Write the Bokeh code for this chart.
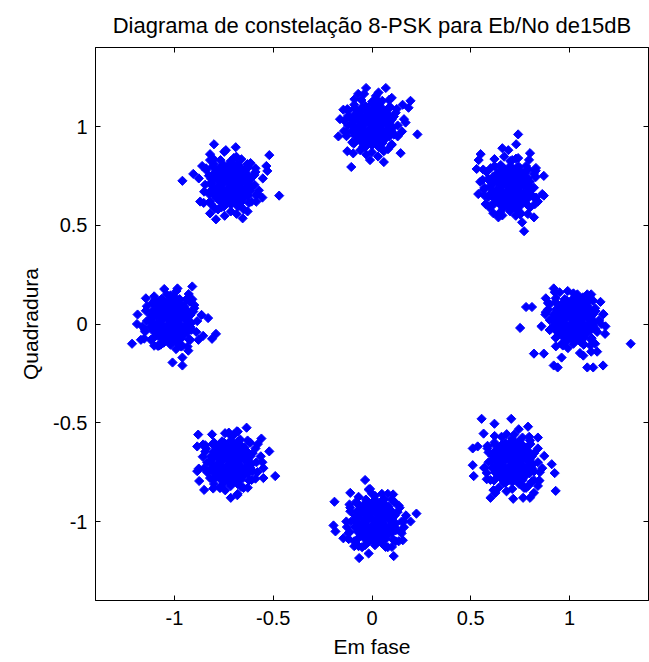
import numpy as np
from bokeh.plotting import figure
from bokeh.models import FixedTicker, LinearAxis, Range1d
from bokeh.embed import file_html
from bokeh.resources import INLINE

title_text = "Diagrama de constelação 8-PSK para Eb/No de15dB"
x_label = "Em fase"
y_label = "Quadradura"
tick_values = [-1, -0.5, 0, 0.5, 1]
tick_labels = ["-1", "-0.5", "0", "0.5", "1"]

# received symbols per constellation point (I, Q)
cluster_e = [
    (0.915, 0.025), (0.95, 0.01), (0.985, 0.03), (1.02, 0.02), (1.055, 0.015), (1.09, 0.03), (1.125, 0.01),
    (0.92, 0.05), (0.95, 0.06), (0.985, 0.055), (1.025, 0.06), (1.055, 0.05), (1.09, 0.06), (1.12, 0.05),
    (0.92, -0.01), (0.95, -0.02), (0.99, -0.015), (1.02, -0.01), (1.055, -0.02), (1.095, -0.015), (1.12, -0.01),
    (0.95, 0.09), (0.985, 0.095), (1.02, 0.085), (1.055, 0.09), (1.09, 0.095),
    (0.95, -0.05), (0.985, -0.045), (1.02, -0.055), (1.06, -0.05), (1.09, -0.045),
    (0.985, 0.12), (1.02, 0.13), (1.055, 0.125),
    (0.985, -0.085), (1.02, -0.08), (1.055, -0.09),
    (0.933, 0.04), (0.968, 0.035), (1.003, 0.04), (1.038, 0.036), (1.073, 0.041), (1.108, 0.035),
    (0.933, 0.001), (0.968, 0.006), (1.003, 0.0), (1.038, 0.005), (1.073, 0.001), (1.108, 0.006),
    (0.933, 0.075), (0.968, 0.07), (1.003, 0.076), (1.038, 0.071), (1.073, 0.074), (1.108, 0.07),
    (0.933, -0.035), (0.968, -0.03), (1.003, -0.036), (1.038, -0.031), (1.073, -0.034), (1.108, -0.03),
    (0.968, 0.11), (1.003, 0.105), (1.038, 0.11), (1.073, 0.106),
    (0.968, -0.066), (1.003, -0.07), (1.038, -0.065), (1.073, -0.07),
    (1.15, 0.02), (1.131, 0.066), (1.119, 0.119), (1.068, 0.135), (1.02, 0.155), (0.976, 0.126), (0.928, 0.112),
    (0.891, 0.074), (0.90, 0.02), (0.90, -0.03), (0.932, -0.068), (0.966, -0.109), (1.02, -0.10), (1.072, -0.105),
    (1.112, -0.072), (1.131, -0.026),
    (1.172, 0.05), (1.157, 0.112), (1.101, 0.14), (0.991, 0.167), (0.925, 0.161), (0.891, 0.106), (0.878, 0.048),
    (0.858, -0.012), (0.931, -0.113), (0.992, -0.122), (1.053, -0.147), (1.106, -0.109), (1.182, -0.012),
    (0.90, 0.10), (0.93, 0.13), (1.10, 0.12), (1.13, 0.08), (1.14, -0.04), (1.11, -0.08), (0.93, -0.07),
    (0.90, -0.03), (1.04, 0.15), (0.96, -0.10), (1.07, -0.10),
    (0.78, 0.086), (0.81, 0.086), (0.75, -0.02), (0.82, -0.15), (0.87, -0.15), (0.92, -0.21), (0.94, -0.22),
    (0.96, -0.17), (1.07, -0.16), (1.09, -0.22), (1.12, -0.22), (1.17, -0.21), (1.11, -0.14), (1.14, -0.14),
    (1.13, -0.10), (1.18, -0.05), (1.16, 0.0), (1.17, 0.05), (1.09, 0.15), (1.11, 0.15), (0.92, 0.18),
    (0.95, 0.16), (0.88, 0.13), (0.88, 0.06), (1.31, -0.10),
]
cluster_ne = [
    (0.595, 0.695), (0.63, 0.68), (0.665, 0.70), (0.70, 0.69), (0.735, 0.685), (0.77, 0.70), (0.805, 0.68),
    (0.60, 0.72), (0.63, 0.73), (0.665, 0.725), (0.705, 0.73), (0.735, 0.72), (0.77, 0.73), (0.80, 0.72),
    (0.60, 0.66), (0.63, 0.65), (0.67, 0.655), (0.70, 0.66), (0.735, 0.65), (0.775, 0.655), (0.80, 0.66),
    (0.63, 0.76), (0.665, 0.765), (0.70, 0.755), (0.735, 0.76), (0.77, 0.765),
    (0.63, 0.62), (0.665, 0.625), (0.70, 0.615), (0.74, 0.62), (0.77, 0.625),
    (0.665, 0.79), (0.70, 0.80), (0.735, 0.795),
    (0.665, 0.585), (0.70, 0.59), (0.735, 0.58),
    (0.613, 0.71), (0.648, 0.705), (0.683, 0.71), (0.718, 0.706), (0.753, 0.711), (0.788, 0.705),
    (0.613, 0.671), (0.648, 0.676), (0.683, 0.67), (0.718, 0.675), (0.753, 0.671), (0.788, 0.676),
    (0.613, 0.745), (0.648, 0.74), (0.683, 0.746), (0.718, 0.741), (0.753, 0.744), (0.788, 0.74),
    (0.613, 0.64), (0.648, 0.635), (0.683, 0.64), (0.718, 0.636), (0.753, 0.639), (0.788, 0.635),
    (0.648, 0.78), (0.683, 0.775), (0.718, 0.78), (0.753, 0.776),
    (0.648, 0.605), (0.683, 0.60), (0.718, 0.606), (0.753, 0.601),
    (0.57, 0.69), (0.589, 0.736), (0.601, 0.789), (0.652, 0.805), (0.70, 0.825), (0.744, 0.796), (0.792, 0.782),
    (0.829, 0.744), (0.82, 0.69), (0.82, 0.64), (0.788, 0.602), (0.754, 0.561), (0.70, 0.57), (0.648, 0.565),
    (0.608, 0.598), (0.589, 0.644),
    (0.548, 0.72), (0.563, 0.782), (0.669, 0.847), (0.729, 0.837), (0.795, 0.831), (0.829, 0.776), (0.862, 0.658),
    (0.825, 0.607), (0.789, 0.557), (0.728, 0.548), (0.614, 0.561), (0.575, 0.607), (0.538, 0.658),
    (0.58, 0.77), (0.62, 0.80), (0.78, 0.80), (0.82, 0.76), (0.83, 0.64), (0.80, 0.59), (0.60, 0.60),
    (0.57, 0.65), (0.71, 0.83), (0.66, 0.55), (0.75, 0.555),
    (0.74, 0.96), (0.73, 0.91), (0.66, 0.89), (0.69, 0.88), (0.55, 0.86), (0.54, 0.83), (0.53, 0.785),
    (0.62, 0.835), (0.74, 0.84), (0.80, 0.865), (0.83, 0.79), (0.87, 0.75), (0.87, 0.65), (0.84, 0.62),
    (0.595, 0.59), (0.64, 0.54), (0.76, 0.515), (0.77, 0.47), (0.82, 0.54), (0.56, 0.73), (0.565, 0.68),
]
cluster_n = [
    (-0.105, 1.01), (-0.07, 0.995), (-0.035, 1.015), (0.0, 1.005), (0.035, 1.0), (0.07, 1.015), (0.105, 0.995),
    (-0.10, 1.035), (-0.07, 1.045), (-0.035, 1.04), (0.005, 1.045), (0.035, 1.035), (0.07, 1.045), (0.10, 1.035),
    (-0.10, 0.975), (-0.07, 0.965), (-0.03, 0.97), (0.0, 0.975), (0.035, 0.965), (0.075, 0.97), (0.10, 0.975),
    (-0.07, 1.075), (-0.035, 1.08), (0.0, 1.07), (0.035, 1.075), (0.07, 1.08),
    (-0.07, 0.935), (-0.035, 0.94), (0.0, 0.93), (0.04, 0.935), (0.07, 0.94),
    (-0.035, 1.105), (0.0, 1.115), (0.035, 1.11),
    (-0.035, 0.895), (0.0, 0.905), (0.035, 0.895),
    (-0.088, 1.025), (-0.053, 1.02), (-0.018, 1.025), (0.018, 1.021), (0.053, 1.026), (0.088, 1.02),
    (-0.088, 0.986), (-0.053, 0.991), (-0.018, 0.985), (0.018, 0.99), (0.053, 0.986), (0.088, 0.991),
    (-0.088, 1.06), (-0.053, 1.055), (-0.018, 1.061), (0.018, 1.056), (0.053, 1.059), (0.088, 1.055),
    (-0.088, 0.955), (-0.053, 0.95), (-0.018, 0.955), (0.018, 0.951), (0.053, 0.954), (0.088, 0.95),
    (-0.053, 1.095), (-0.018, 1.09), (0.018, 1.095), (0.053, 1.091),
    (-0.053, 0.92), (-0.018, 0.915), (0.018, 0.921), (0.053, 0.916),
    (0.13, 1.005), (0.111, 0.959), (0.099, 0.906), (0.048, 0.89), (0.0, 0.87), (-0.044, 0.899), (-0.092, 0.913),
    (-0.129, 0.951), (-0.12, 1.005), (-0.12, 1.055), (-0.088, 1.093), (-0.054, 1.134), (0.0, 1.125), (0.052, 1.13),
    (0.092, 1.097), (0.111, 1.051),
    (0.152, 0.975), (0.081, 0.885), (0.031, 0.848), (-0.029, 0.858), (-0.095, 0.864), (-0.142, 0.977),
    (-0.162, 1.037), (-0.125, 1.088), (-0.089, 1.138), (0.033, 1.172), (0.086, 1.134), (0.125, 1.088), (0.162, 1.037),
    (-0.12, 1.08), (-0.09, 1.11), (0.09, 1.10), (0.12, 1.07), (0.13, 0.95), (0.10, 0.91), (-0.10, 0.92),
    (-0.13, 0.97), (0.02, 1.14), (-0.06, 0.88), (0.06, 0.875), (-0.14, 1.03),
    (-0.145, 1.085), (-0.03, 1.195), (0.07, 1.195), (-0.07, 1.165), (-0.04, 1.165), (0.02, 1.155),
    (0.10, 1.145), (0.155, 1.11), (0.195, 1.13), (0.185, 1.095), (0.23, 0.96), (0.17, 1.02),
    (0.145, 0.865), (0.06, 0.82), (-0.01, 0.83), (-0.105, 0.795), (-0.17, 0.95), (-0.125, 0.875),
]
cluster_nw = [
    (-0.82, 0.71), (-0.785, 0.695), (-0.75, 0.715), (-0.715, 0.705), (-0.68, 0.70), (-0.645, 0.715), (-0.61, 0.695),
    (-0.815, 0.735), (-0.785, 0.745), (-0.75, 0.74), (-0.71, 0.745), (-0.68, 0.735), (-0.645, 0.745), (-0.615, 0.735),
    (-0.815, 0.675), (-0.785, 0.665), (-0.745, 0.67), (-0.715, 0.675), (-0.68, 0.665), (-0.64, 0.67), (-0.615, 0.675),
    (-0.785, 0.775), (-0.75, 0.78), (-0.715, 0.77), (-0.68, 0.775), (-0.645, 0.78),
    (-0.785, 0.635), (-0.75, 0.64), (-0.715, 0.63), (-0.675, 0.635), (-0.645, 0.64),
    (-0.75, 0.805), (-0.715, 0.815), (-0.68, 0.81),
    (-0.75, 0.595), (-0.715, 0.605), (-0.68, 0.595),
    (-0.803, 0.725), (-0.768, 0.72), (-0.733, 0.725), (-0.698, 0.721), (-0.663, 0.726), (-0.628, 0.72),
    (-0.803, 0.686), (-0.768, 0.691), (-0.733, 0.685), (-0.698, 0.69), (-0.663, 0.686), (-0.628, 0.691),
    (-0.803, 0.76), (-0.768, 0.755), (-0.733, 0.761), (-0.698, 0.756), (-0.663, 0.759), (-0.628, 0.755),
    (-0.803, 0.655), (-0.768, 0.65), (-0.733, 0.655), (-0.698, 0.651), (-0.663, 0.654), (-0.628, 0.65),
    (-0.768, 0.795), (-0.733, 0.79), (-0.698, 0.795), (-0.663, 0.791),
    (-0.768, 0.62), (-0.733, 0.615), (-0.698, 0.621), (-0.663, 0.616),
    (-0.845, 0.705), (-0.826, 0.659), (-0.814, 0.606), (-0.763, 0.59), (-0.715, 0.57), (-0.671, 0.599), (-0.623, 0.613),
    (-0.586, 0.651), (-0.595, 0.705), (-0.595, 0.755), (-0.627, 0.793), (-0.661, 0.834), (-0.715, 0.825), (-0.767, 0.83),
    (-0.807, 0.797), (-0.826, 0.751),
    (-0.852, 0.613), (-0.796, 0.585), (-0.746, 0.548), (-0.686, 0.558), (-0.586, 0.619), (-0.573, 0.677),
    (-0.553, 0.737), (-0.59, 0.788), (-0.687, 0.847), (-0.748, 0.872), (-0.801, 0.834), (-0.84, 0.788), (-0.877, 0.737),
    (-0.84, 0.78), (-0.80, 0.81), (-0.63, 0.81), (-0.59, 0.77), (-0.58, 0.66), (-0.61, 0.62), (-0.82, 0.62),
    (-0.85, 0.67), (-0.70, 0.84), (-0.78, 0.58), (-0.65, 0.58),
    (-0.80, 0.91), (-0.69, 0.895), (-0.74, 0.88), (-0.82, 0.86), (-0.82, 0.83), (-0.96, 0.725),
    (-0.905, 0.76), (-0.86, 0.80), (-0.52, 0.855), (-0.535, 0.80), (-0.53, 0.775), (-0.615, 0.815),
    (-0.47, 0.65), (-0.82, 0.56), (-0.79, 0.53), (-0.655, 0.535), (-0.63, 0.57), (-0.87, 0.62), (-0.555, 0.64),
]
cluster_w = [
    (-1.125, 0.02), (-1.09, 0.005), (-1.055, 0.025), (-1.02, 0.015), (-0.985, 0.01), (-0.95, 0.025), (-0.915, 0.005),
    (-1.12, 0.045), (-1.09, 0.055), (-1.055, 0.05), (-1.015, 0.055), (-0.985, 0.045), (-0.95, 0.055), (-0.92, 0.045),
    (-1.12, -0.015), (-1.09, -0.025), (-1.05, -0.02), (-1.02, -0.015), (-0.985, -0.025), (-0.945, -0.02), (-0.92, -0.015),
    (-1.09, 0.085), (-1.055, 0.09), (-1.02, 0.08), (-0.985, 0.085), (-0.95, 0.09),
    (-1.09, -0.055), (-1.055, -0.05), (-1.02, -0.06), (-0.98, -0.055), (-0.95, -0.05),
    (-1.055, 0.115), (-1.02, 0.125), (-0.985, 0.12),
    (-1.055, -0.095), (-1.02, -0.085), (-0.985, -0.095),
    (-1.108, 0.035), (-1.073, 0.03), (-1.038, 0.035), (-1.003, 0.031), (-0.968, 0.036), (-0.933, 0.03),
    (-1.108, -0.005), (-1.073, 0.0), (-1.038, -0.006), (-1.003, -0.001), (-0.968, -0.005), (-0.933, 0.0),
    (-1.108, 0.07), (-1.073, 0.065), (-1.038, 0.071), (-1.003, 0.066), (-0.968, 0.069), (-0.933, 0.065),
    (-1.108, -0.036), (-1.073, -0.041), (-1.038, -0.036), (-1.003, -0.04), (-0.968, -0.037), (-0.933, -0.041),
    (-1.073, 0.105), (-1.038, 0.1), (-1.003, 0.105), (-0.968, 0.101),
    (-1.073, -0.071), (-1.038, -0.076), (-1.003, -0.07), (-0.968, -0.075),
    (-1.02, 0.145), (-0.974, 0.126), (-0.921, 0.114), (-0.905, 0.063), (-0.885, 0.015), (-0.914, -0.029), (-0.928, -0.077),
    (-0.966, -0.114), (-1.02, -0.105), (-1.07, -0.105), (-1.108, -0.073), (-1.149, -0.039), (-1.14, 0.015), (-1.145, 0.067),
    (-1.112, 0.107), (-1.066, 0.126),
    (-0.99, 0.167), (-0.928, 0.152), (-0.90, 0.096), (-0.863, 0.046), (-0.879, -0.08), (-0.934, -0.114),
    (-0.992, -0.127), (-1.103, -0.11), (-1.153, -0.074), (-1.162, -0.013), (-1.187, 0.048), (-1.103, 0.14), (-1.052, 0.177),
    (-1.14, 0.09), (-1.10, 0.12), (-0.94, 0.12), (-0.90, 0.08), (-0.89, -0.04), (-0.92, -0.08), (-1.12, -0.08),
    (-1.15, -0.03), (-1.04, 0.15), (-1.08, -0.11), (-0.96, -0.11),
    (-0.985, 0.18), (-0.91, 0.19), (-0.935, 0.13), (-0.91, 0.125), (-1.005, 0.14), (-0.83, 0.03),
    (-0.79, -0.05), (-0.81, -0.075), (-0.855, -0.06), (-1.215, -0.10), (-1.17, -0.08), (-1.19, 0.0),
    (-1.145, 0.13), (-1.01, -0.195), (-0.96, -0.21), (-0.96, -0.17), (-0.93, -0.135), (-1.085, -0.11),
]
cluster_sw = [
    (-0.82, -0.695), (-0.785, -0.71), (-0.75, -0.69), (-0.715, -0.70), (-0.68, -0.705), (-0.645, -0.69), (-0.61, -0.71),
    (-0.815, -0.67), (-0.785, -0.66), (-0.75, -0.665), (-0.71, -0.66), (-0.68, -0.67), (-0.645, -0.66), (-0.615, -0.67),
    (-0.815, -0.73), (-0.785, -0.74), (-0.745, -0.735), (-0.715, -0.73), (-0.68, -0.74), (-0.64, -0.735), (-0.615, -0.73),
    (-0.785, -0.63), (-0.75, -0.625), (-0.715, -0.635), (-0.68, -0.63), (-0.645, -0.625),
    (-0.785, -0.77), (-0.75, -0.765), (-0.715, -0.775), (-0.675, -0.77), (-0.645, -0.765),
    (-0.75, -0.60), (-0.715, -0.59), (-0.68, -0.595),
    (-0.75, -0.805), (-0.715, -0.80), (-0.68, -0.81),
    (-0.803, -0.681), (-0.768, -0.686), (-0.733, -0.681), (-0.698, -0.685), (-0.663, -0.68), (-0.628, -0.686),
    (-0.803, -0.72), (-0.768, -0.715), (-0.733, -0.721), (-0.698, -0.716), (-0.663, -0.72), (-0.628, -0.715),
    (-0.803, -0.646), (-0.768, -0.651), (-0.733, -0.645), (-0.698, -0.65), (-0.663, -0.647), (-0.628, -0.651),
    (-0.803, -0.751), (-0.768, -0.756), (-0.733, -0.751), (-0.698, -0.755), (-0.663, -0.752), (-0.628, -0.756),
    (-0.768, -0.611), (-0.733, -0.616), (-0.698, -0.611), (-0.663, -0.615),
    (-0.768, -0.786), (-0.733, -0.791), (-0.698, -0.785), (-0.663, -0.79),
    (-0.585, -0.70), (-0.604, -0.654), (-0.616, -0.601), (-0.667, -0.585), (-0.715, -0.565), (-0.759, -0.594), (-0.807, -0.608),
    (-0.844, -0.646), (-0.835, -0.70), (-0.835, -0.75), (-0.803, -0.788), (-0.769, -0.829), (-0.715, -0.82), (-0.663, -0.825),
    (-0.623, -0.792), (-0.604, -0.746),
    (-0.563, -0.67), (-0.578, -0.608), (-0.684, -0.543), (-0.744, -0.553), (-0.81, -0.559), (-0.844, -0.614),
    (-0.857, -0.672), (-0.877, -0.732), (-0.804, -0.833), (-0.743, -0.842), (-0.682, -0.867), (-0.629, -0.829), (-0.59, -0.783),
    (-0.84, -0.63), (-0.80, -0.60), (-0.63, -0.59), (-0.59, -0.63), (-0.58, -0.75), (-0.61, -0.79), (-0.82, -0.78),
    (-0.85, -0.73), (-0.70, -0.56), (-0.77, -0.83), (-0.65, -0.83),
    (-0.88, -0.56), (-0.885, -0.62), (-0.855, -0.61), (-0.635, -0.525), (-0.725, -0.55), (-0.68, -0.545),
    (-0.56, -0.58), (-0.52, -0.645), (-0.555, -0.70), (-0.55, -0.73), (-0.49, -0.77), (-0.55, -0.78),
    (-0.885, -0.745), (-0.875, -0.795), (-0.85, -0.84), (-0.715, -0.88), (-0.68, -0.86), (-0.80, -0.81),
]
cluster_s = [
    (-0.09, -0.995), (-0.055, -1.01), (-0.02, -0.99), (0.015, -1.0), (0.05, -1.005), (0.085, -0.99), (0.12, -1.01),
    (-0.085, -0.97), (-0.055, -0.96), (-0.02, -0.965), (0.02, -0.96), (0.05, -0.97), (0.085, -0.96), (0.115, -0.97),
    (-0.085, -1.03), (-0.055, -1.04), (-0.015, -1.035), (0.015, -1.03), (0.05, -1.04), (0.09, -1.035), (0.115, -1.03),
    (-0.055, -0.93), (-0.02, -0.925), (0.015, -0.935), (0.05, -0.93), (0.085, -0.925),
    (-0.055, -1.07), (-0.02, -1.065), (0.015, -1.075), (0.055, -1.07), (0.085, -1.065),
    (-0.02, -0.90), (0.015, -0.89), (0.05, -0.895),
    (-0.02, -1.105), (0.015, -1.10), (0.05, -1.11),
    (-0.073, -0.981), (-0.038, -0.986), (-0.003, -0.981), (0.033, -0.985), (0.068, -0.98), (0.103, -0.986),
    (-0.073, -1.02), (-0.038, -1.015), (-0.003, -1.021), (0.033, -1.016), (0.068, -1.02), (0.103, -1.015),
    (-0.073, -0.946), (-0.038, -0.951), (-0.003, -0.945), (0.033, -0.95), (0.068, -0.947), (0.103, -0.951),
    (-0.073, -1.051), (-0.038, -1.056), (-0.003, -1.051), (0.033, -1.055), (0.068, -1.052), (0.103, -1.056),
    (-0.038, -0.911), (-0.003, -0.916), (0.033, -0.911), (0.068, -0.915),
    (-0.038, -1.086), (-0.003, -1.091), (0.033, -1.085), (0.068, -1.09),
    (0.015, -0.87), (0.061, -0.889), (0.114, -0.901), (0.13, -0.952), (0.15, -1.0), (0.121, -1.044), (0.107, -1.092),
    (0.069, -1.129), (0.015, -1.12), (-0.035, -1.12), (-0.073, -1.088), (-0.114, -1.054), (-0.105, -1.0), (-0.11, -0.948),
    (-0.077, -0.908), (-0.031, -0.889),
    (0.107, -0.863), (0.135, -0.919), (0.172, -0.969), (0.162, -1.029), (0.156, -1.095), (0.101, -1.129),
    (-0.017, -1.162), (-0.068, -1.125), (-0.118, -1.089), (-0.127, -1.028), (-0.114, -0.914), (-0.068, -0.875), (-0.017, -0.838),
    (-0.11, -0.93), (-0.08, -0.90), (0.10, -0.89), (0.14, -0.93), (0.16, -1.0), (0.15, -1.06), (0.12, -1.10),
    (-0.12, -1.06), (-0.13, -1.0), (-0.09, -1.10), (0.0, -0.86), (-0.05, -1.13), (0.08, -1.13), (0.05, -0.86),
    (-0.035, -0.79), (-0.19, -0.90), (-0.195, -1.02), (-0.185, -1.05), (-0.11, -0.855), (-0.01, -0.835),
    (0.225, -0.96), (0.195, -1.0), (0.145, -1.05), (-0.065, -1.185), (0.11, -1.175), (-0.09, -1.125),
    (0.135, -1.10), (-0.145, -1.085), (0.08, -0.86),
]
cluster_se = [
    (0.605, -0.695), (0.64, -0.71), (0.675, -0.69), (0.71, -0.70), (0.745, -0.705), (0.78, -0.69), (0.815, -0.71),
    (0.61, -0.67), (0.64, -0.66), (0.675, -0.665), (0.715, -0.66), (0.745, -0.67), (0.78, -0.66), (0.81, -0.67),
    (0.61, -0.73), (0.64, -0.74), (0.68, -0.735), (0.71, -0.73), (0.745, -0.74), (0.785, -0.735), (0.81, -0.73),
    (0.64, -0.63), (0.675, -0.625), (0.71, -0.635), (0.745, -0.63), (0.78, -0.625),
    (0.64, -0.77), (0.675, -0.765), (0.71, -0.775), (0.75, -0.77), (0.78, -0.765),
    (0.675, -0.60), (0.71, -0.59), (0.745, -0.595),
    (0.675, -0.805), (0.71, -0.80), (0.745, -0.81),
    (0.623, -0.681), (0.658, -0.686), (0.693, -0.681), (0.728, -0.685), (0.763, -0.68), (0.798, -0.686),
    (0.623, -0.72), (0.658, -0.715), (0.693, -0.721), (0.728, -0.716), (0.763, -0.72), (0.798, -0.715),
    (0.623, -0.646), (0.658, -0.651), (0.693, -0.645), (0.728, -0.65), (0.763, -0.647), (0.798, -0.651),
    (0.623, -0.751), (0.658, -0.756), (0.693, -0.751), (0.728, -0.755), (0.763, -0.752), (0.798, -0.756),
    (0.658, -0.611), (0.693, -0.616), (0.728, -0.611), (0.763, -0.615),
    (0.658, -0.786), (0.693, -0.791), (0.728, -0.785), (0.763, -0.79),
    (0.84, -0.70), (0.821, -0.746), (0.809, -0.799), (0.758, -0.815), (0.71, -0.835), (0.666, -0.806), (0.618, -0.792),
    (0.581, -0.754), (0.59, -0.70), (0.59, -0.65), (0.622, -0.612), (0.656, -0.571), (0.71, -0.58), (0.762, -0.575),
    (0.802, -0.608), (0.821, -0.654),
    (0.862, -0.73), (0.847, -0.792), (0.791, -0.82), (0.681, -0.847), (0.615, -0.841), (0.581, -0.786),
    (0.568, -0.728), (0.585, -0.617), (0.621, -0.567), (0.682, -0.558), (0.743, -0.533), (0.796, -0.571), (0.872, -0.668),
    (0.585, -0.63), (0.62, -0.60), (0.80, -0.59), (0.84, -0.63), (0.85, -0.75), (0.82, -0.79), (0.60, -0.79),
    (0.57, -0.73), (0.72, -0.56), (0.64, -0.83), (0.78, -0.83),
    (0.555, -0.48), (0.62, -0.505), (0.705, -0.48), (0.79, -0.52), (0.565, -0.555), (0.51, -0.63),
    (0.535, -0.62), (0.51, -0.715), (0.515, -0.77), (0.84, -0.575), (0.91, -0.71), (0.925, -0.755),
    (0.845, -0.795), (0.84, -0.82), (0.82, -0.855), (0.93, -0.845), (0.77, -0.83), (0.765, -0.88),
    (0.80, -0.88), (0.715, -0.885), (0.60, -0.88), (0.625, -0.855),
]

clusters = [cluster_e, cluster_ne, cluster_n, cluster_nw, cluster_w, cluster_sw, cluster_s, cluster_se]
in_phase = [pt[0] for c in clusters for pt in c]
quadrature = [pt[1] for c in clusters for pt in c]

FONT = "Liberation Sans"

p = figure(width=649, height=662, output_backend="svg", toolbar_location=None,
           x_range=Range1d(-1.4, 1.4), y_range=Range1d(-1.4, 1.4),
           min_border_left=95, min_border_right=1, min_border_top=45, min_border_bottom=62,
           title=title_text)
p.title.align = "center"
p.title.text_font = FONT
p.title.text_font_size = "22px"
p.title.text_font_style = "normal"
p.title.text_color = "#000000"
p.title.standoff = 20

p.scatter(in_phase, quadrature, marker="square", angle=np.pi / 4, size=6.5,
          fill_color="#0000ff", line_color="#0000ff", line_width=1)

overrides = {v: s for v, s in zip(tick_values, tick_labels)}
for ax in (p.xaxis[0], p.yaxis[0]):
    ax.ticker = FixedTicker(ticks=tick_values)
    ax.major_label_overrides = overrides
    ax.major_tick_in = 5
    ax.major_tick_out = 0
    ax.minor_tick_line_color = None
    ax.major_label_text_font = FONT
    ax.major_label_text_font_size = "20px"
    ax.major_label_text_color = "#000000"
    ax.axis_label_text_font = FONT
    ax.axis_label_text_font_size = "21px"
    ax.axis_label_text_font_style = "normal"
    ax.axis_label_text_color = "#000000"
    ax.axis_line_color = "#000000"
    ax.major_tick_line_color = "#000000"
p.xaxis[0].axis_label = x_label
p.yaxis[0].axis_label = y_label
p.xaxis[0].major_label_standoff = 10
p.yaxis[0].major_label_standoff = 8
p.xaxis[0].axis_label_standoff = 7
p.yaxis[0].axis_label_standoff = 8

for loc in ("above", "right"):
    ax = LinearAxis(ticker=FixedTicker(ticks=tick_values), major_tick_in=5, major_tick_out=0,
                    minor_tick_line_color=None, major_label_text_color=None,
                    major_label_text_font_size="0px",
                    major_label_standoff=0, axis_line_color="#000000", major_tick_line_color="#000000")
    p.add_layout(ax, loc)

p.xgrid.grid_line_color = None
p.ygrid.grid_line_color = None
p.outline_line_color = "#000000"
p.background_fill_color = "#ffffff"
p.border_fill_color = "#ffffff"

open("out.html", "w").write(file_html(p, INLINE))
